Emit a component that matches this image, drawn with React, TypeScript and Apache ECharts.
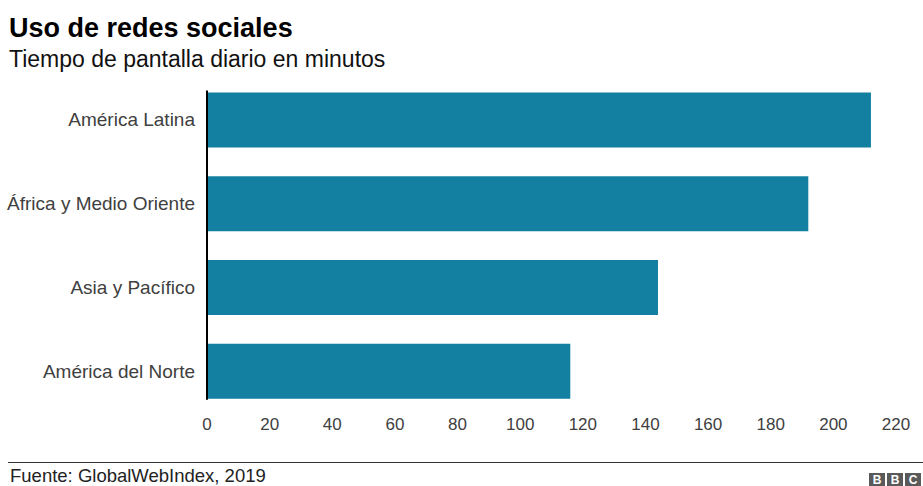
import React, { useEffect, useRef } from "react";
import * as echarts from "echarts";

const categories = ["América Latina", "África y Medio Oriente", "Asia y Pacífico", "América del Norte"];
const values = [212, 192, 144, 116];
const xTicks = { min: 0, max: 220, interval: 20 };
const title = "Uso de redes sociales";
const subtitle = "Tiempo de pantalla diario en minutos";
const source = "Fuente: GlobalWebIndex, 2019";

const FONT = "Liberation Sans, Arial, Helvetica, sans-serif";
const BAR_W = 55;

export default function App() {
  const ref = useRef<HTMLDivElement>(null);
  useEffect(() => {
    document.body.style.margin = "0";
    const chart = echarts.init(ref.current!, null, { renderer: "svg" });
    const baseGraphic: any[] = [
      { type: "text", left: 9, top: 14, style: { text: title, font: `bold 27px ${FONT}`, fill: "#000" } },
      { type: "text", left: 9, top: 47, style: { text: subtitle, font: `23px ${FONT}`, fill: "#111" } },
      { type: "line", shape: { x1: 8, y1: 462.5, x2: 923, y2: 462.5 }, style: { stroke: "#333", lineWidth: 1 } },
      { type: "text", left: 10, top: 466, style: { text: source, font: `18.5px ${FONT}`, fill: "#222" } },
    ];
    const logo: any[] = [];
    ["B", "B", "C"].forEach((l, i) => {
      const x = 869 + i * 18;
      logo.push({ type: "rect", shape: { x, y: 473, width: 16, height: 13 }, style: { fill: "#5a5a5a" } });
      logo.push({
        type: "text",
        x: x + 8,
        y: 480,
        style: { text: l, font: `bold 12px ${FONT}`, fill: "#fff", align: "center", verticalAlign: "middle" },
      });
    });
    const option: any = {
      animation: false,
      grid: { left: 207, right: 27, top: 78, height: 335, containLabel: false },
      xAxis: {
        type: "value",
        min: xTicks.min,
        max: xTicks.max,
        interval: xTicks.interval,
        axisLine: { show: false },
        axisTick: { show: false },
        splitLine: { show: false },
        axisLabel: { margin: 3, fontSize: 17, fontFamily: FONT, color: "#404040" },
      },
      yAxis: {
        type: "category",
        data: categories,
        inverse: true,
        axisLine: { show: false },
        axisTick: { show: false },
        axisLabel: { margin: 12, fontSize: 19, fontFamily: FONT, color: "#404040" },
      },
      series: [
        {
          type: "bar",
          data: values,
          barWidth: BAR_W,
          itemStyle: { color: "#1380A1" },
        },
      ],
      graphic: [...baseGraphic, ...logo],
    };
    chart.setOption(option);
    const top = chart.convertToPixel({ yAxisIndex: 0 }, 0) as number;
    const bot = chart.convertToPixel({ yAxisIndex: 0 }, categories.length - 1) as number;
    const x0 = chart.convertToPixel({ xAxisIndex: 0 }, 0) as number;
    chart.setOption({
      graphic: [
        ...baseGraphic,
        ...logo,
        {
          type: "line",
          z: 10,
          shape: { x1: x0, y1: top - BAR_W / 2 - 2, x2: x0, y2: bot + BAR_W / 2 + 1 },
          style: { stroke: "#000", lineWidth: 2 },
        },
      ],
    });
    return () => chart.dispose();
  }, []);
  return <div ref={ref} style={{ position: "absolute", left: 0, top: 0, width: 923, height: 486 }} />;
}
